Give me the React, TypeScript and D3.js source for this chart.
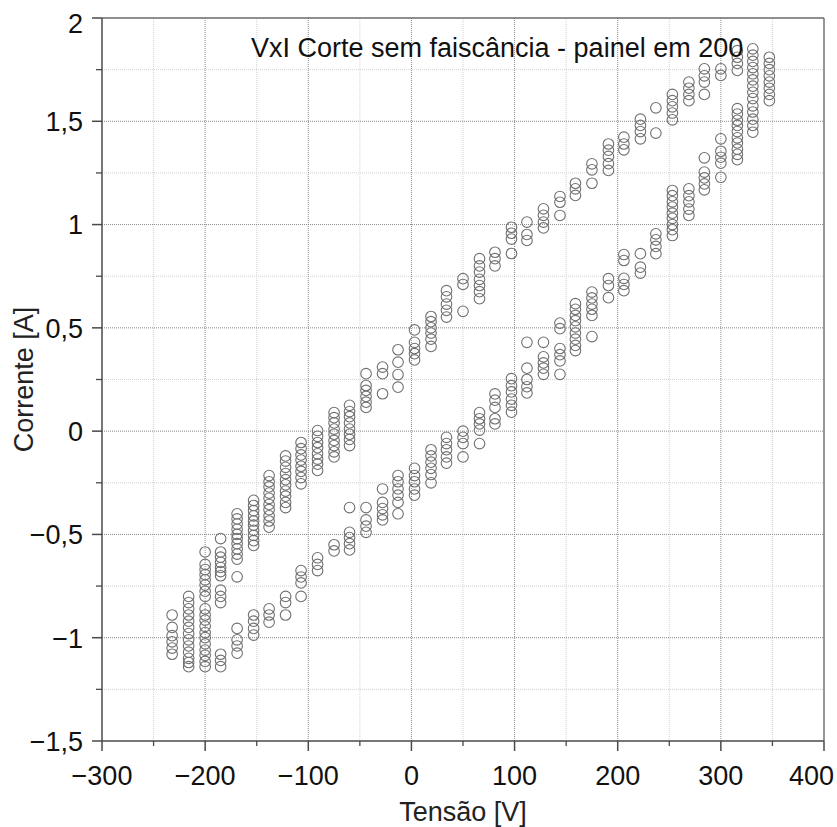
import React from "react";
import * as d3 from "d3";

// ---- Data ----
const voltages = [-232, -216, -200, -185, -169, -153, -138, -122, -107, -91, -75, -60, -44, -28, -13, 3, 19, 34, 50, 66, 81, 97, 112, 128, 144, 159, 175, 191, 206, 222, 237, 253, 269, 284, 300, 316, 331, 347];

// currents on the rising (upper) branch, one list per voltage column
const upperBranch: number[][] = [
  [-0.89, -0.95, -0.99, -1.02, -1.05, -1.08],
  [-0.8, -0.83, -0.86, -0.89, -0.92, -0.95, -0.98, -1.01, -1.04, -1.07, -1.1, -1.12, -1.14],
  [-0.585, -0.645, -0.67, -0.695, -0.72, -0.745, -0.775, -0.8],
  [-0.52, -0.585, -0.61, -0.635, -0.66, -0.68, -0.7, -0.77, -0.8, -0.83],
  [-0.4, -0.425, -0.45, -0.475, -0.5, -0.52, -0.545, -0.57, -0.595, -0.62, -0.705],
  [-0.335, -0.36, -0.385, -0.41, -0.435, -0.455, -0.48, -0.505, -0.53, -0.553],
  [-0.215, -0.245, -0.27, -0.3, -0.325, -0.355, -0.38, -0.41, -0.435, -0.465],
  [-0.12, -0.145, -0.175, -0.205, -0.235, -0.26, -0.29, -0.315, -0.345, -0.37],
  [-0.055, -0.085, -0.115, -0.14, -0.17, -0.195, -0.225, -0.255],
  [0.003, -0.025, -0.055, -0.08, -0.11, -0.135, -0.16, -0.19],
  [0.09, 0.065, 0.04, 0.01, -0.015, -0.045, -0.07, -0.1, -0.125],
  [0.125, 0.095, 0.07, 0.04, 0.01, -0.015, -0.04, -0.07],
  [0.278, 0.221, 0.197, 0.168, 0.14, 0.115],
  [0.31, 0.278, 0.181],
  [0.394, 0.334, 0.274, 0.213],
  [0.49, 0.43, 0.4, 0.375, 0.345],
  [0.555, 0.53, 0.5, 0.475, 0.445, 0.41],
  [0.68, 0.65, 0.615, 0.585, 0.552],
  [0.738, 0.71, 0.58],
  [0.835, 0.8, 0.77, 0.735, 0.705, 0.675, 0.641],
  [0.866, 0.835, 0.8],
  [0.987, 0.958, 0.93, 0.86],
  [1.012, 0.952, 0.923],
  [1.076, 1.045, 1.012, 0.984],
  [1.136, 1.108, 1.044],
  [1.2, 1.173, 1.141],
  [1.294, 1.265, 1.2],
  [1.39, 1.36, 1.33, 1.295, 1.262],
  [1.423, 1.39, 1.362],
  [1.51, 1.48, 1.45, 1.415],
  [1.565, 1.443],
  [1.63, 1.6, 1.57, 1.54, 1.507],
  [1.69, 1.66, 1.63, 1.6],
  [1.754, 1.72, 1.69, 1.63],
  [1.754, 1.722],
  [1.842, 1.81, 1.78, 1.746],
  [1.851, 1.82, 1.79, 1.76, 1.73, 1.7, 1.67, 1.64, 1.61, 1.575, 1.545, 1.51, 1.48, 1.447],
  [1.81, 1.78, 1.75, 1.72, 1.69, 1.66, 1.63, 1.6],
];

// currents on the falling (lower) branch
const lowerBranch: number[][] = [
  [],
  [],
  [-0.86, -0.89, -0.915, -0.945, -0.975, -1.0, -1.03, -1.06, -1.085, -1.115, -1.14],
  [-1.08, -1.11, -1.14],
  [-0.955, -1.01, -1.04, -1.075],
  [-0.89, -0.92, -0.955, -0.987],
  [-0.86, -0.89, -0.925],
  [-0.8, -0.83, -0.89],
  [-0.675, -0.706, -0.735, -0.8],
  [-0.613, -0.645, -0.675],
  [-0.55, -0.58],
  [-0.37, -0.49, -0.515, -0.545, -0.575],
  [-0.37, -0.43, -0.46, -0.49],
  [-0.28, -0.345, -0.375, -0.405, -0.43],
  [-0.215, -0.245, -0.28, -0.31, -0.345, -0.4],
  [-0.18, -0.215, -0.245, -0.28, -0.31],
  [-0.09, -0.12, -0.15, -0.18, -0.21, -0.25],
  [-0.03, -0.06, -0.09, -0.125, -0.155],
  [0.0, -0.03, -0.06, -0.125],
  [0.09, 0.06, 0.035, 0.005, -0.06],
  [0.18, 0.15, 0.115, 0.06, 0.035],
  [0.254, 0.22, 0.19, 0.155, 0.125, 0.092],
  [0.43, 0.305, 0.25, 0.215, 0.185],
  [0.43, 0.36, 0.33, 0.305, 0.275],
  [0.523, 0.496, 0.4, 0.37, 0.34, 0.275],
  [0.617, 0.59, 0.56, 0.535, 0.505, 0.475, 0.445, 0.415, 0.39],
  [0.673, 0.645, 0.615, 0.59, 0.56, 0.458],
  [0.738, 0.705, 0.646],
  [0.855, 0.826, 0.74, 0.71, 0.68],
  [0.859, 0.794, 0.765],
  [0.955, 0.926, 0.894, 0.859],
  [1.165, 1.14, 1.11, 1.085, 1.055, 1.03, 1.0, 0.975, 0.947],
  [1.173, 1.14, 1.11, 1.075, 1.044],
  [1.323, 1.254, 1.226, 1.197, 1.168],
  [1.415, 1.355, 1.326, 1.297, 1.229],
  [1.561, 1.535, 1.505, 1.48, 1.45, 1.42, 1.395, 1.365, 1.34, 1.314],
  [],
  [],
];

const xMajorTicks = [-300, -200, -100, 0, 100, 200, 300, 400];
const xTickLabels = ["\u2212300", "\u2212200", "\u2212100", "0", "100", "200", "300", "400"];
const xMinorTicks = [-250, -150, -50, 50, 150, 250, 350];
const yMajorTicks = [-1.5, -1, -0.5, 0, 0.5, 1, 1.5, 2];
const yTickLabels = ["\u22121,5", "\u22121", "\u22120,5", "0", "0,5", "1", "1,5", "2"];
const yMinorTicks = [-1.25, -0.75, -0.25, 0.25, 0.75, 1.25, 1.75];

const title = "VxI Corte sem faiscância - painel em 200";
const xLabel = "Tensão [V]";
const yLabel = "Corrente [A]";

const W = 837;
const H = 827;
const M = { left: 102, right: 824, top: 18, bottom: 741 };
const FONT = "'Liberation Sans', Arial, Helvetica, sans-serif";

export default function App() {
  const x = d3.scaleLinear().domain([-300, 400]).range([M.left, M.right]);
  const y = d3.scaleLinear().domain([-1.5, 2]).range([M.bottom, M.top]);

  const points: { v: number; i: number }[] = [];
  voltages.forEach((v, k) => {
    upperBranch[k].forEach((i) => points.push({ v, i }));
    lowerBranch[k].forEach((i) => points.push({ v, i }));
  });

  const axisColor = "#4a4a4a";
  const fs = 27;

  return (
    <svg
      width={W}
      height={H}
      style={{ position: "absolute", left: 0, top: 0, background: "#fff" }}
      fontFamily={FONT}
    >
      <rect x={0} y={0} width={W} height={H} fill="#fff" />
      {/* minor grid */}
      {xMinorTicks.map((t) => (
        <line key={"xm" + t} x1={x(t)} x2={x(t)} y1={M.top} y2={M.bottom} stroke="#d2d2d2" strokeWidth={1} strokeDasharray="1,1" />
      ))}
      {yMinorTicks.map((t) => (
        <line key={"ym" + t} x1={M.left} x2={M.right} y1={y(t)} y2={y(t)} stroke="#d2d2d2" strokeWidth={1} strokeDasharray="1,1" />
      ))}
      {/* major grid */}
      {xMajorTicks.slice(1, -1).map((t) => (
        <line key={"xg" + t} x1={x(t)} x2={x(t)} y1={M.top} y2={M.bottom} stroke="#8a8a8a" strokeWidth={1} strokeDasharray="1,1" />
      ))}
      {yMajorTicks.slice(1, -1).map((t) => (
        <line key={"yg" + t} x1={M.left} x2={M.right} y1={y(t)} y2={y(t)} stroke="#8a8a8a" strokeWidth={1} strokeDasharray="1,1" />
      ))}

      {/* points */}
      {points.map((p, idx) => (
        <circle key={idx} cx={x(p.v)} cy={y(p.i)} r={5.3} fill="none" stroke="#707070" strokeWidth={1.1} />
      ))}

      {/* frame */}
      <line x1={M.left} x2={M.right} y1={M.top} y2={M.top} stroke="#6a6a6a" strokeWidth={1.4} />
      <line x1={M.right} x2={M.right} y1={M.top} y2={M.bottom} stroke="#6a6a6a" strokeWidth={1.4} />
      <line x1={M.left} x2={M.left} y1={M.top} y2={M.bottom} stroke={axisColor} strokeWidth={1.5} />
      <line x1={M.left} x2={M.right} y1={M.bottom} y2={M.bottom} stroke={axisColor} strokeWidth={1.5} />

      {/* ticks */}
      {xMajorTicks.map((t) => (
        <line key={"xt" + t} x1={x(t)} x2={x(t)} y1={M.bottom} y2={M.bottom + 10} stroke={axisColor} strokeWidth={1.5} />
      ))}
      {xMinorTicks.map((t) => (
        <line key={"xmt" + t} x1={x(t)} x2={x(t)} y1={M.bottom} y2={M.bottom + 5} stroke={axisColor} strokeWidth={1.3} />
      ))}
      {yMajorTicks.map((t) => (
        <line key={"yt" + t} x1={M.left - 10} x2={M.left} y1={y(t)} y2={y(t)} stroke={axisColor} strokeWidth={1.5} />
      ))}
      {yMinorTicks.map((t) => (
        <line key={"ymt" + t} x1={M.left - 6} x2={M.left} y1={y(t)} y2={y(t)} stroke={axisColor} strokeWidth={1.3} />
      ))}

      {/* tick labels */}
      {xMajorTicks.map((t, k) => {
        const last = k === xMajorTicks.length - 1;
        return (
          <text
            key={"xl" + t}
            x={last ? W - 3 : x(t)}
            y={785}
            textAnchor={last ? "end" : "middle"}
            fontSize={fs}
            fill="#111"
          >
            {xTickLabels[k]}
          </text>
        );
      })}
      {yMajorTicks.map((t, k) => {
        const last = k === yMajorTicks.length - 1;
        return (
          <text
            key={"yl" + t}
            x={83}
            y={last ? y(t) + 14.5 : y(t) + 9.8}
            textAnchor="end"
            fontSize={fs}
            fill="#111"
          >
            {yTickLabels[k]}
          </text>
        );
      })}

      {/* title */}
      <text x={251} y={57} fontSize={fs} fill="#111">
        {title}
      </text>

      {/* axis labels */}
      <text x={(M.left + M.right) / 2} y={821} textAnchor="middle" fontSize={fs} fill="#222">
        {xLabel}
      </text>
      <text
        transform={`translate(33, ${(M.top + M.bottom) / 2}) rotate(-90)`}
        textAnchor="middle"
        fontSize={fs}
        fill="#222"
      >
        {yLabel}
      </text>
    </svg>
  );
}
